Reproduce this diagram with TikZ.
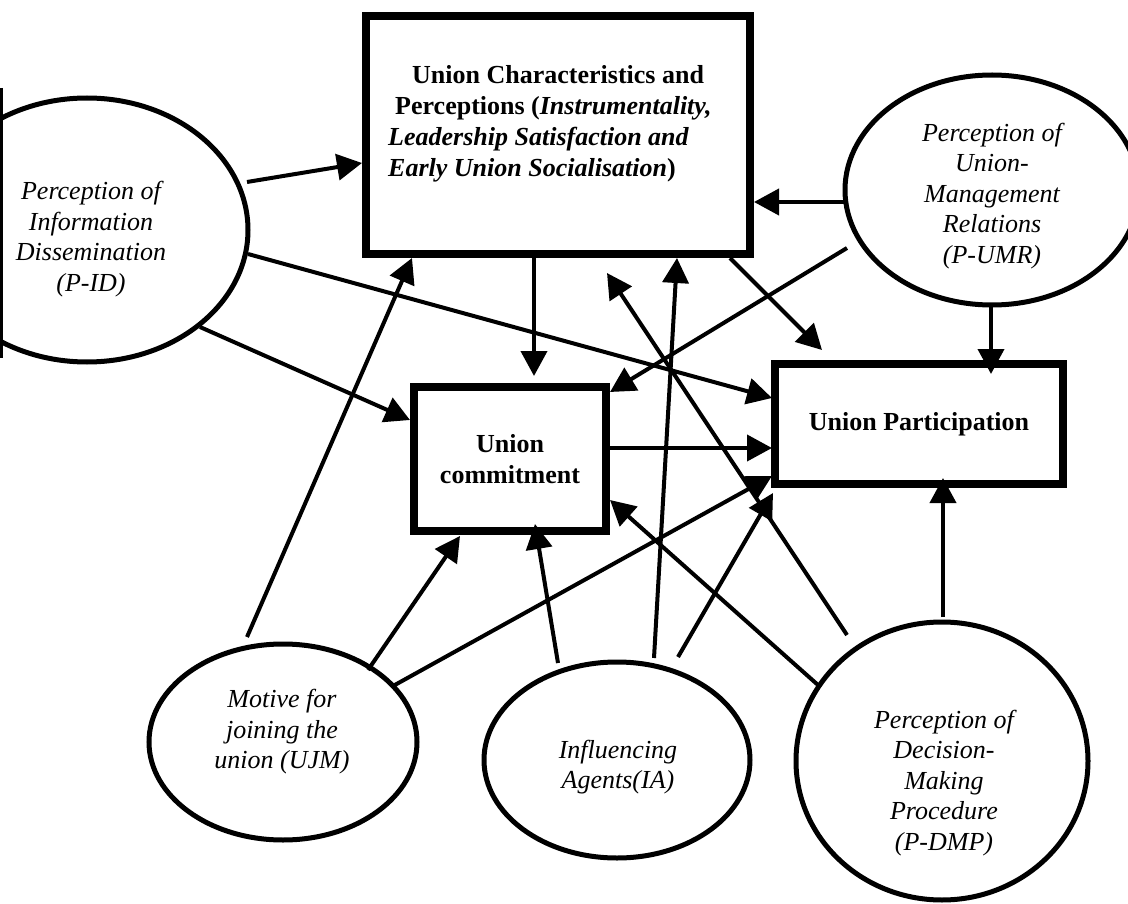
\documentclass[tikz,border=0pt]{standalone}
\usepackage{fontspec}
\setmainfont{Liberation Serif}
\usetikzlibrary{arrows.meta,shapes.geometric}

\begin{document}
\begin{tikzpicture}[x=1pt,y=-1pt,
  box/.style={draw, rectangle, line width=8pt, inner sep=0pt},
  oval/.style={draw, ellipse, line width=5pt, inner sep=0pt},
  itxt/.style={font=\fontsize{26}{30.5}\selectfont\itshape, align=center, inner sep=0pt},
  btxt/.style={font=\fontsize{26}{31}\selectfont\bfseries, align=center, inner sep=0pt},
  link/.style={line width=4pt, -{Triangle[length=25pt,width=26pt]}}
]
\useasboundingbox (0,0) rectangle (1128,904);
\clip (0,0) rectangle (1128,904);

% boxes
\node[box, minimum width=384pt, minimum height=238pt] (ucp) at (558,135) {};
\node[btxt, align=left, anchor=west] (ucptext) at (388,124)
  {\hspace*{24pt}Union Characteristics and\\
   \hspace*{7pt}Perceptions (\textit{Instrumentality,}\\
   \textit{Leadership Satisfaction and}\\
   \textit{Early Union Socialisation})};
\node[box, btxt, minimum width=192pt, minimum height=144pt] (uc) at (510,459) {Union\\commitment};
\node[box, btxt, minimum width=288pt, minimum height=120pt] (up) at (919,424) {Union Participation};

% ellipses
\node[oval, minimum width=322pt, minimum height=264pt] (pid) at (87,230) {};
\node[itxt] (pidtext) at (91,239) {Perception of\\Information\\Dissemination\\(P-ID)};
\node[oval, minimum width=294pt, minimum height=230pt] (pumr) at (992,190) {};
\node[itxt] (pumrtext) at (992,196) {Perception of\\Union-\\Management\\Relations\\(P-UMR)};
\node[oval, minimum width=268pt, minimum height=196pt] (ujm) at (283,742) {};
\node[itxt] (ujmtext) at (282,732) {Motive for\\joining the\\union (UJM)};
\node[oval, minimum width=266pt, minimum height=196pt] (ia) at (617,760) {};
\node[itxt] (iatext) at (618,767) {Influencing\\Agents(IA)};
\node[oval, minimum width=292pt, minimum height=278pt] (pdmp) at (942,761) {};
\node[itxt] (pdmptext) at (944,783) {Perception of\\Decision-\\Making\\Procedure\\(P-DMP)};

% edge of the frame on the left
\draw[line width=3pt] (1.5,88) -- (1.5,358);

% connector end points
\coordinate (pid-a) at (247,182);  \coordinate (ucp-w)  at (362,163);
\coordinate (pid-b) at (248,254);  \coordinate (up-w1)  at (772,398);
\coordinate (pid-c) at (200,327);  \coordinate (uc-w)   at (410,420);
\coordinate (pumr-a) at (845,202); \coordinate (ucp-e)  at (754,202);
\coordinate (pumr-b) at (847,248); \coordinate (uc-ne)  at (610,392);
\coordinate (pumr-c) at (991,306); \coordinate (up-n)   at (991,374);
\coordinate (ucp-s1) at (534,258); \coordinate (uc-n)   at (534,376);
\coordinate (ucp-s2) at (730,258); \coordinate (up-nw)  at (822,350);
\coordinate (uc-e)   at (610,448); \coordinate (up-w2)  at (772,448);
\coordinate (ujm-a)  at (247,637); \coordinate (ucp-s3) at (412,258);
\coordinate (ujm-b)  at (368,670); \coordinate (uc-s1)  at (460,536);
\coordinate (ujm-c)  at (393,686); \coordinate (up-w3)  at (772,476);
\coordinate (ia-a)   at (558,663); \coordinate (uc-s2)  at (535,524);
\coordinate (ia-b)   at (654,658); \coordinate (ucp-s4) at (677,258);
\coordinate (ia-c)   at (678,657); \coordinate (up-sw)  at (773,493);
\coordinate (pdmp-a) at (818,685); \coordinate (uc-se)  at (610,500);
\coordinate (pdmp-b) at (847,635); \coordinate (ucp-s5) at (607,273);
\coordinate (pdmp-c) at (943,617); \coordinate (up-s)   at (943,478);

% connectors
\draw[link] (pid-a) -- (ucp-w);
\draw[link] (pid-b) -- (up-w1);
\draw[link] (pid-c) -- (uc-w);
\draw[link] (pumr-a) -- (ucp-e);
\draw[link] (pumr-b) -- (uc-ne);
\draw[link] (pumr-c) -- (up-n);
\draw[link] (ucp-s1) -- (uc-n);
\draw[link] (ucp-s2) -- (up-nw);
\draw[link] (uc-e) -- (up-w2);
\draw[link] (ujm-a) -- (ucp-s3);
\draw[link] (ujm-b) -- (uc-s1);
\draw[link] (ujm-c) -- (up-w3);
\draw[link] (ia-a) -- (uc-s2);
\draw[link] (ia-b) -- (ucp-s4);
\draw[link] (ia-c) -- (up-sw);
\draw[link] (pdmp-a) -- (uc-se);
\draw[link] (pdmp-b) -- (ucp-s5);
\draw[link] (pdmp-c) -- (up-s);
\end{tikzpicture}
\end{document}
